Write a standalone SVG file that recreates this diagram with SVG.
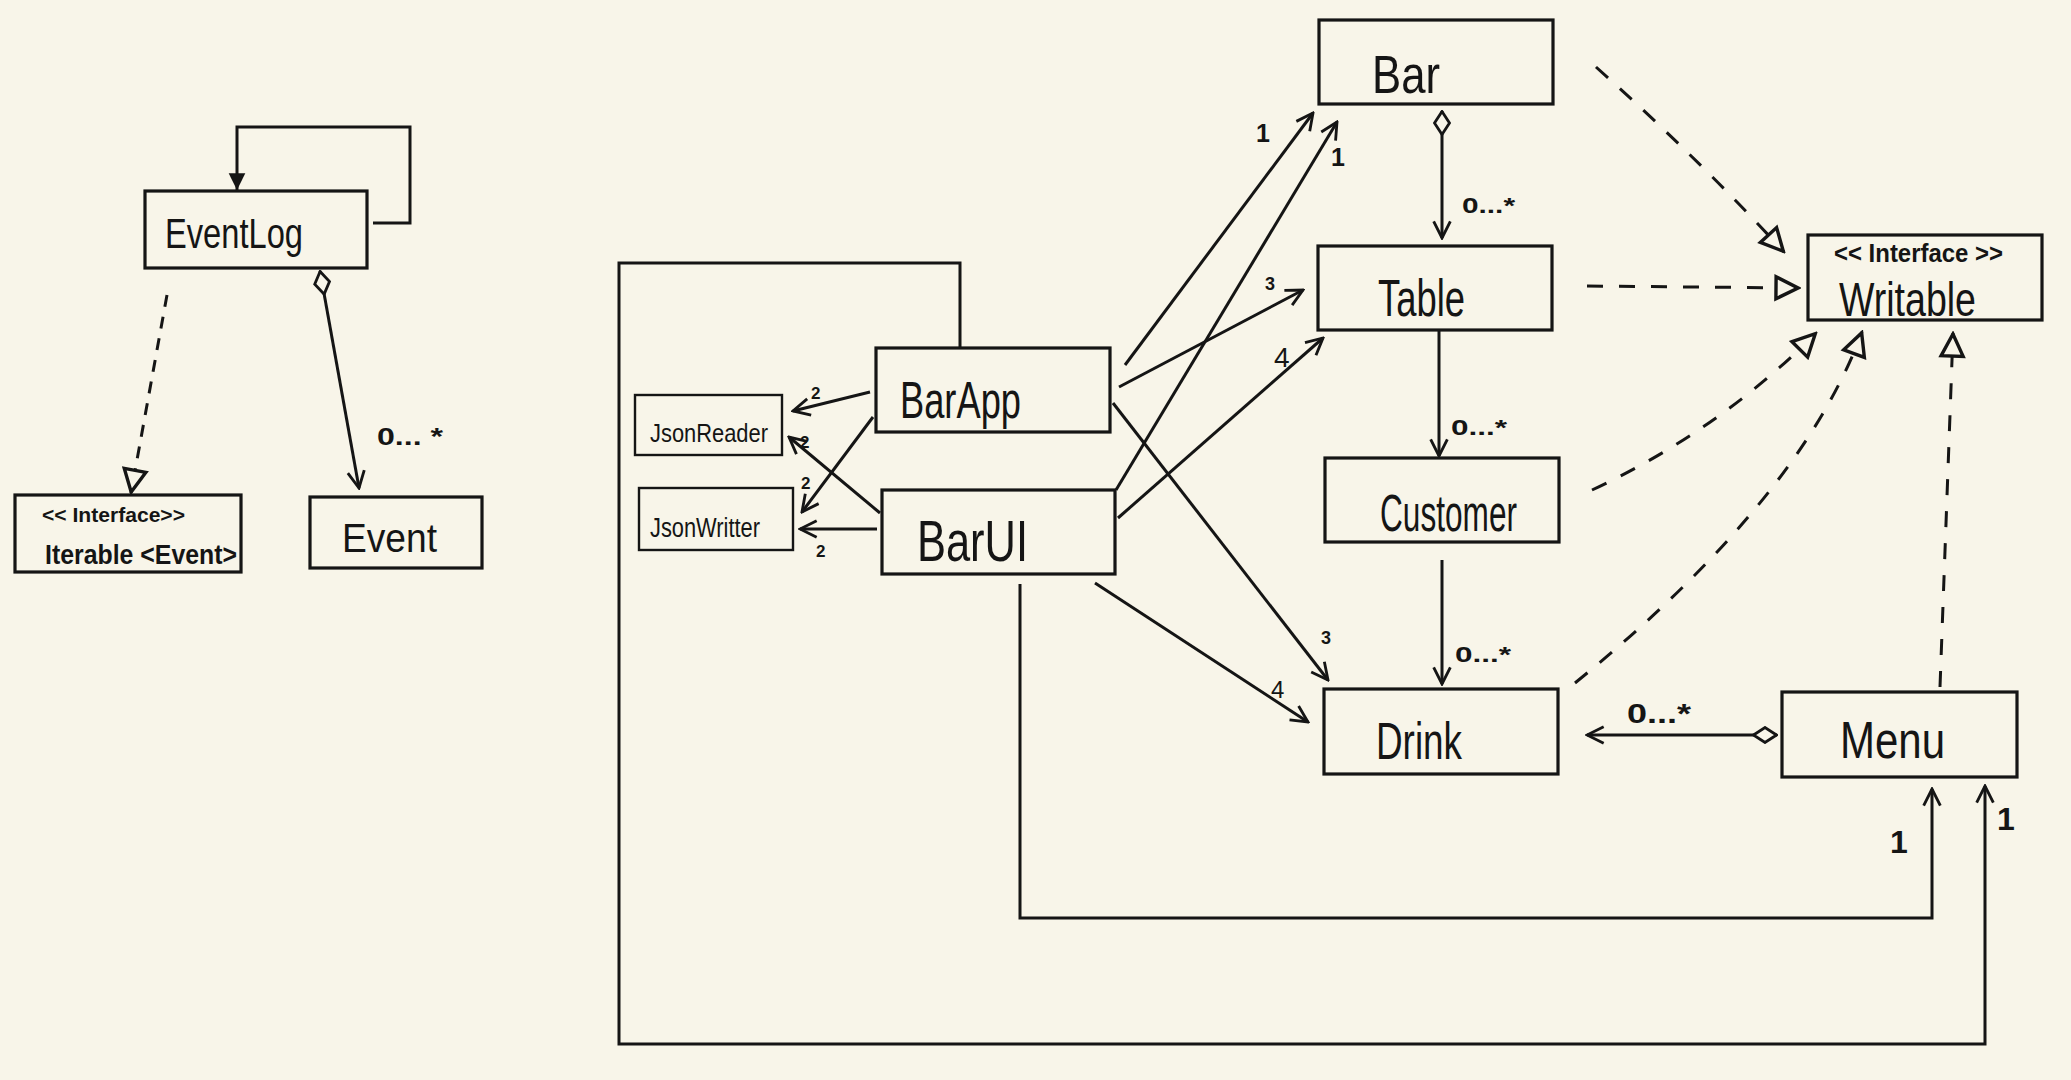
<svg xmlns="http://www.w3.org/2000/svg" width="2071" height="1080" viewBox="0 0 2071 1080">
<style>
.box{fill:none;stroke:#151515;stroke-width:3.2}
.ln{fill:none;stroke:#151515;stroke-width:3}
.dash{fill:none;stroke:#151515;stroke-width:3;stroke-dasharray:16 16}
.t{font-family:"Liberation Sans","DejaVu Sans",sans-serif;fill:#151515}
.lb{font-family:"Liberation Sans","DejaVu Sans",sans-serif;fill:#151515;font-weight:bold}
</style>
<defs>
<marker id="open" viewBox="0 0 12 12" refX="11" refY="6" markerWidth="20" markerHeight="20" markerUnits="userSpaceOnUse" orient="auto"><path d="M1,1 L11,6 L1,11" fill="none" stroke="#151515" stroke-width="1.7"/></marker>
<marker id="tri" viewBox="0 0 14 14" refX="13" refY="7" markerWidth="28" markerHeight="28" markerUnits="userSpaceOnUse" orient="auto"><path d="M1.5,1.5 L12.5,7 L1.5,12.5 Z" fill="#f8f5e9" stroke="#151515" stroke-width="1.7"/></marker>
<marker id="fill" viewBox="0 0 12 12" refX="11" refY="6" markerWidth="20" markerHeight="20" markerUnits="userSpaceOnUse" orient="auto"><path d="M1,1 L11,6 L1,11 Z" fill="#151515"/></marker>
<marker id="dia" viewBox="0 0 26 18" refX="1" refY="9" markerWidth="26" markerHeight="18" markerUnits="userSpaceOnUse" orient="auto"><path d="M1.5,9 L13,1.5 L24.5,9 L13,16.5 Z" fill="#f8f5e9" stroke="#151515" stroke-width="2.8"/></marker>
</defs>
<rect width="2071" height="1080" fill="#f8f5e9"/>

<g id="connectors">
<polyline class="ln" points="373,223 410,223 410,127 237,127 237,190" marker-end="url(#fill)"/>
<line class="dash" x1="167" y1="295" x2="131" y2="493" style="stroke-dasharray:12 10" marker-end="url(#tri)"/>
<line class="ln" x1="320" y1="271" x2="359" y2="488" marker-start="url(#dia)" marker-end="url(#open)"/>

<line class="ln" x1="1442" y1="111" x2="1442" y2="238" marker-start="url(#dia)" marker-end="url(#open)"/>
<line class="ln" x1="1439" y1="330" x2="1439" y2="456" marker-end="url(#open)"/>
<line class="ln" x1="1442" y1="560" x2="1442" y2="684" marker-end="url(#open)"/>
<line class="ln" x1="1777" y1="735" x2="1587" y2="735" marker-start="url(#dia)" marker-end="url(#open)"/>

<path class="dash" d="M1596,67 Q1700,160 1784,252" marker-end="url(#tri)"/>
<line class="dash" x1="1587" y1="286" x2="1799" y2="288" marker-end="url(#tri)"/>
<path class="dash" d="M1592,490 Q1720,430 1816,333" marker-end="url(#tri)"/>
<path class="dash" d="M1575,683 Q1800,500 1862,332" marker-end="url(#tri)"/>
<line class="dash" x1="1940" y1="687" x2="1953" y2="333" marker-end="url(#tri)"/>

<line class="ln" x1="1125" y1="365" x2="1313" y2="113" marker-end="url(#open)"/>
<line class="ln" x1="1116" y1="490" x2="1337" y2="122" marker-end="url(#open)"/>
<line class="ln" x1="1119" y1="387" x2="1303" y2="290" marker-end="url(#open)"/>
<line class="ln" x1="1118" y1="518" x2="1323" y2="338" marker-end="url(#open)"/>
<line class="ln" x1="1113" y1="403" x2="1328" y2="680" marker-end="url(#open)"/>
<line class="ln" x1="1095" y1="583" x2="1308" y2="722" marker-end="url(#open)"/>
<line class="ln" x1="870" y1="392" x2="793" y2="411" marker-end="url(#open)"/>
<line class="ln" x1="873" y1="417" x2="802" y2="512" marker-end="url(#open)"/>
<line class="ln" x1="880" y1="513" x2="789" y2="437" marker-end="url(#open)"/>
<line class="ln" x1="877" y1="529" x2="800" y2="529" marker-end="url(#open)"/>
<polyline class="ln" points="960,348 960,263 619,263 619,1044 1985,1044 1985,786" marker-end="url(#open)"/>
<polyline class="ln" points="1020,584 1020,918 1932,918 1932,789" marker-end="url(#open)"/>

<text class="lb" x="377" y="445" font-size="24" textLength="66" lengthAdjust="spacingAndGlyphs">0... *</text>
<text class="lb" x="1462" y="213" font-size="22" textLength="53" lengthAdjust="spacingAndGlyphs">0...*</text>
<text class="lb" x="1451" y="435" font-size="22" textLength="56" lengthAdjust="spacingAndGlyphs">0...*</text>
<text class="lb" x="1455" y="662" font-size="22" textLength="56" lengthAdjust="spacingAndGlyphs">0...*</text>
<text class="lb" x="1627" y="723" font-size="28" textLength="64" lengthAdjust="spacingAndGlyphs">0...*</text>
<text class="lb" x="811" y="399" font-size="17">2</text>
<text class="lb" x="800" y="448" font-size="17">2</text>
<text class="lb" x="801" y="489" font-size="17">2</text>
<text class="lb" x="816" y="557" font-size="17">2</text>
<text class="lb" x="1265" y="290" font-size="18">3</text>
<text class="t" x="1274" y="367" font-size="28">4</text>
<text class="lb" x="1256" y="142" font-size="25">1</text>
<text class="lb" x="1331" y="166" font-size="25">1</text>
<text class="lb" x="1321" y="644" font-size="18">3</text>
<text class="t" x="1271" y="698" font-size="24">4</text>
<text class="lb" x="1890" y="853" font-size="32">1</text>
<text class="lb" x="1997" y="830" font-size="32">1</text>
</g>

<g id="EventLog"><rect class="box" x="145" y="191" width="222" height="77"/><text class="t" x="165" y="248" font-size="42" textLength="138" lengthAdjust="spacingAndGlyphs">EventLog</text></g>
<g id="Iterable"><rect class="box" x="15" y="495" width="226" height="77"/><text class="lb" x="42" y="522" font-size="21" textLength="143" lengthAdjust="spacingAndGlyphs">&lt;&lt; Interface&gt;&gt;</text><text class="lb" x="45" y="564" font-size="27" textLength="192" lengthAdjust="spacingAndGlyphs">Iterable &lt;Event&gt;</text></g>
<g id="Event"><rect class="box" x="310" y="497" width="172" height="71"/><text class="t" x="342" y="552" font-size="40" textLength="95" lengthAdjust="spacingAndGlyphs">Event</text></g>

<g id="JsonReader"><rect class="box" x="635" y="395" width="147" height="60" style="stroke-width:2.4"/><text class="t" x="650" y="442" font-size="26" textLength="118" lengthAdjust="spacingAndGlyphs">JsonReader</text></g>
<g id="JsonWritter"><rect class="box" x="639" y="488" width="154" height="62" style="stroke-width:2.4"/><text class="t" x="650" y="537" font-size="27" textLength="110" lengthAdjust="spacingAndGlyphs">JsonWritter</text></g>
<g id="BarApp"><rect class="box" x="876" y="348" width="234" height="84"/><text class="t" x="900" y="418" font-size="52" textLength="121" lengthAdjust="spacingAndGlyphs">BarApp</text></g>
<g id="BarUI"><rect class="box" x="882" y="490" width="233" height="84"/><text class="t" x="917" y="561" font-size="58" textLength="111" lengthAdjust="spacingAndGlyphs">BarUI</text></g>

<g id="Bar"><rect class="box" x="1319" y="20" width="234" height="84"/><text class="t" x="1372" y="93" font-size="54" textLength="68" lengthAdjust="spacingAndGlyphs">Bar</text></g>
<g id="Table"><rect class="box" x="1318" y="246" width="234" height="84"/><text class="t" x="1378" y="316" font-size="52" textLength="87" lengthAdjust="spacingAndGlyphs">Table</text></g>
<g id="Customer"><rect class="box" x="1325" y="458" width="234" height="84"/><text class="t" x="1380" y="531" font-size="52" textLength="137" lengthAdjust="spacingAndGlyphs">Customer</text></g>
<g id="Drink"><rect class="box" x="1324" y="689" width="234" height="85"/><text class="t" x="1376" y="759" font-size="52" textLength="86" lengthAdjust="spacingAndGlyphs">Drink</text></g>
<g id="Menu"><rect class="box" x="1782" y="692" width="235" height="85"/><text class="t" x="1840" y="758" font-size="52" textLength="105" lengthAdjust="spacingAndGlyphs">Menu</text></g>
<g id="Writable"><rect class="box" x="1808" y="235" width="234" height="85"/><text class="lb" x="1834" y="262" font-size="25" textLength="169" lengthAdjust="spacingAndGlyphs">&lt;&lt; Interface &gt;&gt;</text><text class="t" x="1839" y="316" font-size="48" textLength="137" lengthAdjust="spacingAndGlyphs">Writable</text></g>
</svg>
